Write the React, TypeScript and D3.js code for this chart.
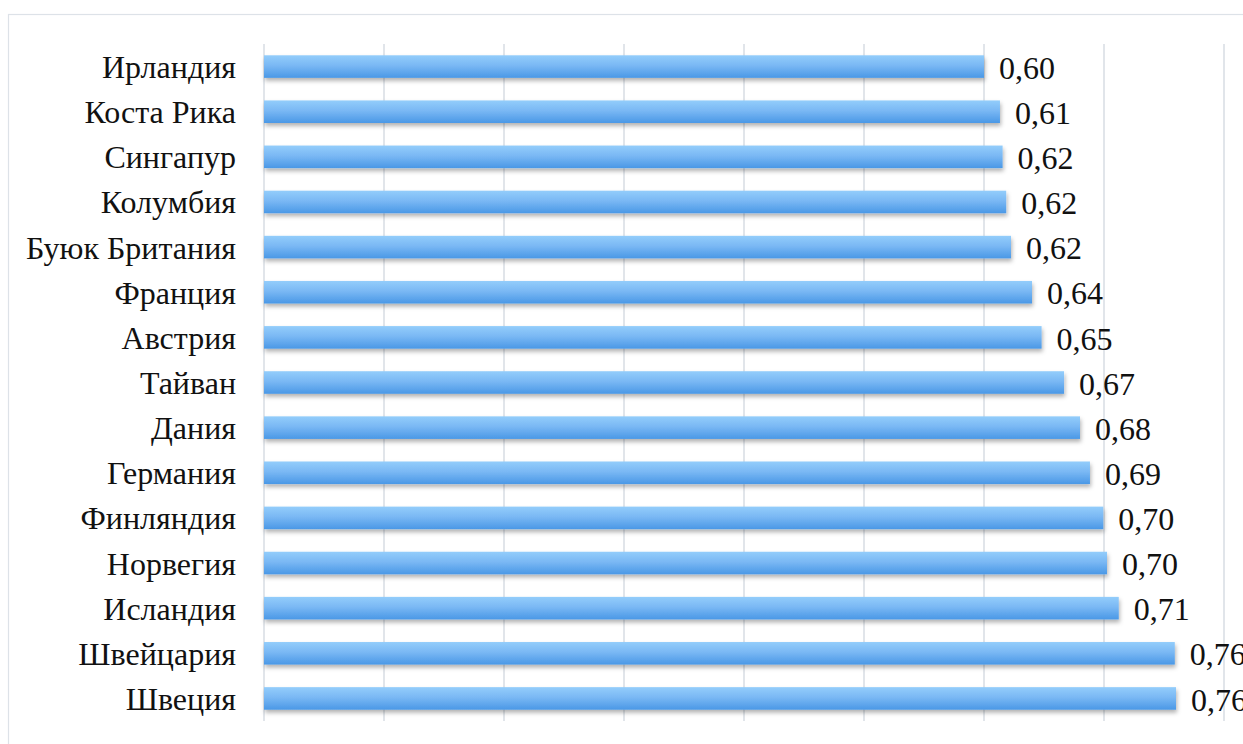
import React from "react";
import * as d3 from "d3";

const categories = [
  "Ирландия", "Коста Рика", "Сингапур", "Колумбия", "Буюк Британия",
  "Франция", "Австрия", "Тайван", "Дания", "Германия",
  "Финляндия", "Норвегия", "Исландия", "Швейцария", "Швеция",
];
const values = [
  0.600, 0.6133, 0.6155, 0.6185, 0.6225,
  0.640, 0.648, 0.6667, 0.680, 0.6883,
  0.6994, 0.7025, 0.7123, 0.759, 0.760,
];
const xTicks = [0, 0.1, 0.2, 0.3, 0.4, 0.5, 0.6, 0.7, 0.8];

const W = 1243;
const H = 744;
const FONT = "Liberation Serif, Times New Roman, serif";

export default function App() {
  const x = d3.scaleLinear().domain([0, 0.8]).range([264, 1224]);
  const y = d3.scaleBand<string>().domain(categories).range([44, 721]).paddingInner(0.5).paddingOuter(0.25);
  const fmt = (v: number) => v.toFixed(2).replace(".", ",");
  return (
    <svg width={W} height={H} style={{ position: "absolute", left: 0, top: 0, background: "#fff" }}>
      <defs>
        <linearGradient id="barGrad" x1="0" y1="0" x2="0" y2="1">
          <stop offset="0" stopColor="#93cdfb" />
          <stop offset="0.45" stopColor="#7ab8f4" />
          <stop offset="1" stopColor="#4a98e6" />
        </linearGradient>
        <filter id="shadow" x="-5%" y="-50%" width="110%" height="200%">
          <feDropShadow dx="1" dy="3" stdDeviation="2" floodColor="#000" floodOpacity="0.3" />
        </filter>
      </defs>
      <rect x={8.5} y={14.5} width={W} height={H} fill="#fff" stroke="#dde2e8" strokeWidth={1.2} />
      {xTicks.map((t) => (
        <line key={t} x1={x(t)} x2={x(t)} y1={44} y2={721} stroke="#e1e5ea" strokeWidth={2} />
      ))}
      {categories.map((c, i) => (
        <g key={c}>
          <rect
            x={x(0)}
            y={y(c)!}
            width={x(values[i]) - x(0)}
            height={y.bandwidth()}
            fill="url(#barGrad)"
            filter="url(#shadow)"
          />
          <text
            x={236}
            y={y(c)! + y.bandwidth() / 2}
            dy="0.36em"
            textAnchor="end"
            fontFamily={FONT}
            fontSize={32}
            fill="#111"
          >
            {c}
          </text>
          <text
            x={x(values[i]) + 15}
            y={y(c)! + y.bandwidth() / 2}
            dy="0.38em"
            textAnchor="start"
            fontFamily={FONT}
            fontSize={32}
            fill="#111"
          >
            {fmt(values[i])}
          </text>
        </g>
      ))}
    </svg>
  );
}
